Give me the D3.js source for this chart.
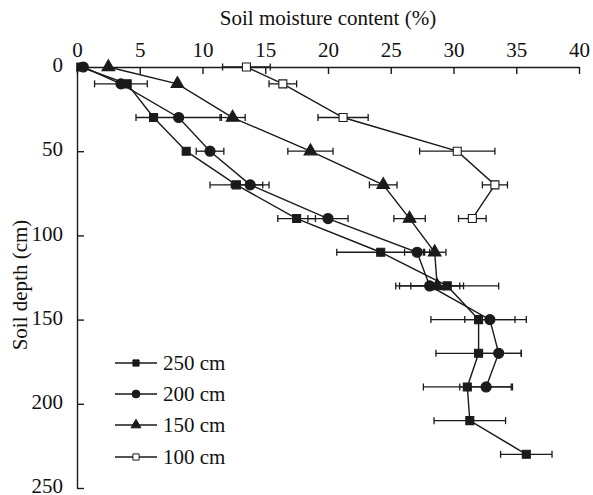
<!DOCTYPE html>
<html>
<head>
<meta charset="utf-8">
<script src="https://cdn.jsdelivr.net/npm/d3@7"></script>
<style>
  body { margin: 0; background: #fff; }
  svg text { font-family: 'Liberation Serif', 'Times New Roman', Times, 'DejaVu Serif', serif !important; fill: #111; }
</style>
</head>
<body>
<main></main>
<script>
// depths (cm) and moisture (%)
var depth250 = [0, 10, 30, 50, 70, 90, 110, 130, 150, 170, 190, 210, 230];
var sm250 = [0.3, 4.0, 6.1, 8.7, 12.7, 17.5, 24.2, 29.5, 32.0, 32.0, 31.1, 31.3, 35.8];
var err250 = [0, 0, 0, 0, 2.1, 1.5, 3.5, 4.1, 3.8, 3.4, 3.5, 2.85, 2.05];

var depth200 = [0, 10, 30, 50, 70, 90, 110, 130, 150, 170, 190];
var sm200 = [0.5, 3.5, 8.1, 10.6, 13.8, 20.0, 27.1, 28.1, 32.9, 33.6, 32.6];
var err200 = [0, 2.1, 3.4, 1.1, 1.5, 1.6, 1.0, 2.4, 2.0, 1.8, 2.1];

var depth150 = [0, 10, 30, 50, 70, 90, 110, 130];
var sm150 = [2.5, 8.0, 12.4, 18.6, 24.4, 26.5, 28.5, 28.7];
var err150 = [0, 0, 1.0, 1.8, 1.1, 1.25, 0.9, 2.1];

var depth100 = [0, 10, 30, 50, 70, 90];
var sm100 = [13.5, 16.4, 21.2, 30.3, 33.3, 31.5];
var err100 = [1.9, 1.1, 2.0, 3.0, 1.0, 1.1];

var seriesNames = ['250 cm', '200 cm', '150 cm', '100 cm'];
var xTicks = [0, 5, 10, 15, 20, 25, 30, 35, 40];
var yTicks = [0, 50, 100, 150, 200, 250];

!function(){
    var w = 593, h = 495;
    var ink = '#1a1a1a';
    var serif = "'Liberation Serif', 'Times New Roman', Times, 'DejaVu Serif', serif";

    var svg = d3.select('main').append('svg')
        .attr('width', w)
        .attr('height', h);

    var x = d3.scaleLinear().domain([0, 40]).range([77, 579]);
    var y = d3.scaleLinear().domain([0, 250]).range([67, 488]);

    // top axis
    var xAxis = svg.append('g')
        .attr('transform', 'translate(0,' + y(0) + ')')
        .call(d3.axisTop(x).tickValues(xTicks).tickSizeInner(-7).tickSizeOuter(0).tickPadding(10));
    xAxis.selectAll('text').attr('y', -10).attr('dy', 0);

    // left axis
    var yAxis = svg.append('g')
        .attr('transform', 'translate(' + x(0) + ',0)')
        .call(d3.axisLeft(y).tickValues(yTicks).tickSizeInner(-7).tickSizeOuter(0).tickPadding(14));

    svg.selectAll('g').attr('font-family', serif);
    svg.selectAll('.tick line, .domain').attr('stroke', ink).attr('stroke-width', 1.4);
    svg.selectAll('.tick text')
        .attr('fill', ink)
        .attr('font-family', serif)
        .attr('font-size', 21);
    yAxis.selectAll('text').attr('dy', '0.22em');

    svg.append('text')
        .attr('x', (x(0) + x(40)) / 2)
        .attr('y', 25)
        .attr('text-anchor', 'middle')
        .attr('font-family', serif)
        .attr('font-size', 21)
        .text('Soil moisture content (%)');

    svg.append('text')
        .attr('transform', 'translate(27,' + 285 + ') rotate(-90)')
        .attr('text-anchor', 'middle')
        .attr('font-family', serif)
        .attr('font-size', 21)
        .text('Soil depth (cm)');

    var series = [
        { name: seriesNames[0], d: depth250, v: sm250, e: err250, shape: 'square', fill: ink },
        { name: seriesNames[1], d: depth200, v: sm200, e: err200, shape: 'circle', fill: ink },
        { name: seriesNames[2], d: depth150, v: sm150, e: err150, shape: 'triangle', fill: ink },
        { name: seriesNames[3], d: depth100, v: sm100, e: err100, shape: 'square', fill: '#fff' }
    ];

    var symbols = { square: d3.symbolSquare, circle: d3.symbolCircle, triangle: d3.symbolTriangle };
    var sizes = { square: 64, circle: 80, triangle: 70 };

    var line = d3.line().x(function(p){ return x(p[0]); }).y(function(p){ return y(p[1]); });

    series.forEach(function(s){
        var pts = s.d.map(function(dd, i){ return [s.v[i], dd, s.e[i]]; });
        svg.append('path')
            .attr('d', line(pts))
            .attr('fill', 'none')
            .attr('stroke', ink)
            .attr('stroke-width', 1.4);

        var eb = svg.append('g').selectAll('g')
            .data(pts.filter(function(p){ return p[2] > 0; }))
            .enter().append('g')
            .attr('stroke', ink)
            .attr('stroke-width', 1.3);
        eb.append('line')
            .attr('x1', function(p){ return x(p[0] - p[2]); })
            .attr('x2', function(p){ return x(p[0] + p[2]); })
            .attr('y1', function(p){ return y(p[1]); })
            .attr('y2', function(p){ return y(p[1]); });
        eb.append('line')
            .attr('x1', function(p){ return x(p[0] - p[2]); })
            .attr('x2', function(p){ return x(p[0] - p[2]); })
            .attr('y1', function(p){ return y(p[1]) - 3.5; })
            .attr('y2', function(p){ return y(p[1]) + 3.5; });
        eb.append('line')
            .attr('x1', function(p){ return x(p[0] + p[2]); })
            .attr('x2', function(p){ return x(p[0] + p[2]); })
            .attr('y1', function(p){ return y(p[1]) - 3.5; })
            .attr('y2', function(p){ return y(p[1]) + 3.5; });

        svg.append('g').selectAll('path')
            .data(pts)
            .enter().append('path')
            .attr('transform', function(p){ return 'translate(' + x(p[0]) + ',' + y(p[1]) + ')'; })
            .attr('d', d3.symbol().type(symbols[s.shape]).size(sizes[s.shape]))
            .attr('fill', s.fill)
            .attr('stroke', ink)
            .attr('stroke-width', 1.1);
    });

    // legend
    var legY = [363, 394, 425, 457];
    var leg = svg.append('g');
    series.forEach(function(s, i){
        var g = leg.append('g').attr('transform', 'translate(0,' + legY[i] + ')');
        g.append('line')
            .attr('x1', 115).attr('x2', 157)
            .attr('stroke', ink).attr('stroke-width', 1.4);
        g.append('path')
            .attr('transform', 'translate(136,0)')
            .attr('d', d3.symbol().type(symbols[s.shape]).size(sizes[s.shape] * 0.6))
            .attr('fill', s.fill)
            .attr('stroke', ink)
            .attr('stroke-width', 1);
        g.append('text')
            .attr('x', 163)
            .attr('dy', '0.32em')
            .attr('font-family', serif)
            .attr('font-size', 21)
            .text(s.name);
    });
}();
</script>
</body>
</html>
